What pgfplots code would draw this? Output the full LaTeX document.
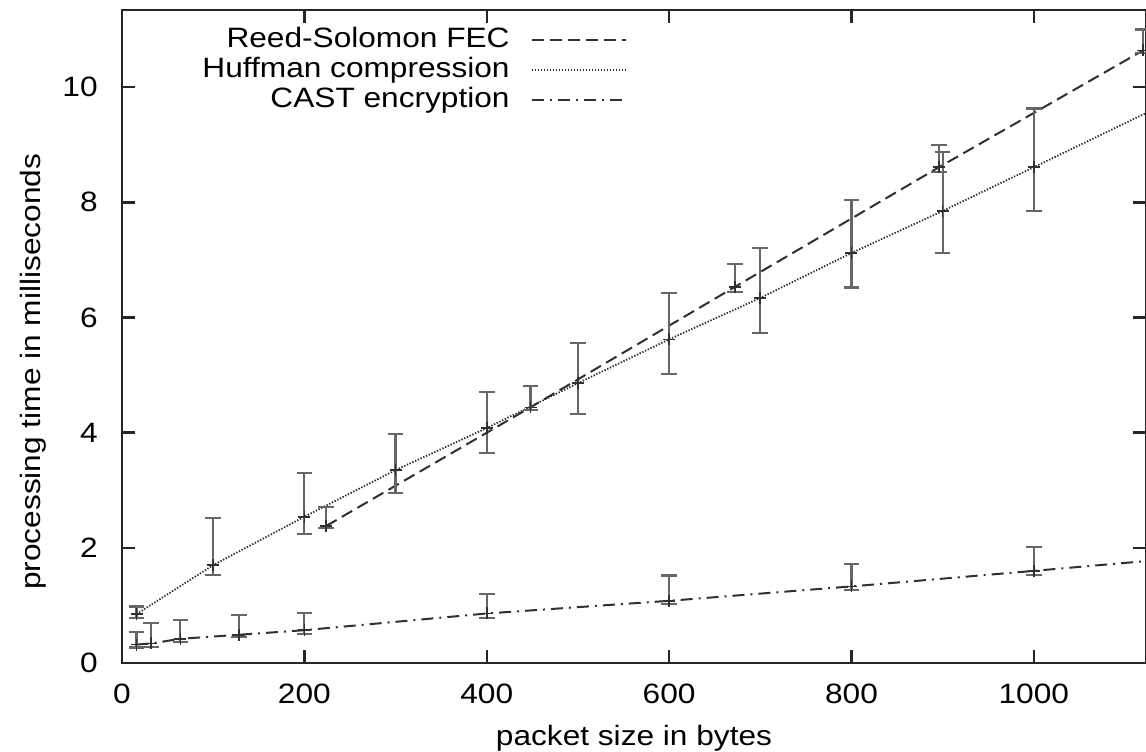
\documentclass[border=0pt]{standalone}
\usepackage{fontspec}
\setmainfont{Liberation Sans}[FakeStretch=1.13]
\usepackage{pgfplots}
\pgfplotsset{compat=1.18}
\definecolor{ln}{HTML}{303030}
\definecolor{eb}{HTML}{666666}
\begin{document}
\fontsize{14}{17}\selectfont
\begin{tikzpicture}
\begin{axis}[
 name=ax,
 scale only axis, width=512pt, height=326.5pt,
 xmin=0, xmax=1123, ymin=0, ymax=11.34,
 xtick={0,200,...,1000}, ytick={0,2,...,10},
 /pgf/number format/assume math mode=true,
 /pgf/number format/1000 sep={},
 tick align=inside, major tick length=6.5pt,
 axis line style={line width=1.2pt, color=black!85},
 every tick/.style={line width=1.2pt, black!85},
 xticklabel style={yshift=-5.5pt},
 yticklabel style={xshift=-7.3pt},
 font=\fontsize{14}{17}\selectfont,
 xlabel={packet size in bytes},
 ylabel={processing time in milliseconds},
 every axis x label/.style={at={(axis description cs:0.5,0)}, yshift=-41pt, anchor=base},
 every axis y label/.style={at={(axis description cs:0,0.446)}, xshift=-44.5pt, rotate=90, anchor=center},
 legend style={draw=none, fill=none, at={(axis description cs:0.4932,1)}, yshift=-8.5pt, anchor=north east, inner sep=0pt, row sep=2pt, column sep=10.5pt, nodes={inner sep=0pt, text height=10pt, text depth=3pt}},
 legend plot pos=right, legend cell align=right,
 legend image code/.code={\draw[#1] (0pt,0pt) -- (47pt,0pt);},
]
% lines
\addplot[ln, line width=1pt, dash pattern=on 6pt off 3pt] coordinates {
 (224,2.38) (448,4.44) (672,6.53) (896,8.61) (1120,10.64)};
\addlegendentry{Reed-Solomon FEC}
\addplot[ln, line width=0.9pt, dash pattern=on 0.7pt off 0.8pt] coordinates {
 (16,0.85) (100,1.70) (200,2.54) (300,3.35) (400,4.08) (500,4.86) (600,5.62) (700,6.34) (800,7.12) (900,7.85) (1000,8.61) (1123,9.55)};
\addlegendentry{Huffman compression}
\addplot[ln, line width=1pt, dash pattern=on 6pt off 3pt on 1pt off 3pt] coordinates {
 (16,0.32) (32,0.34) (64,0.42) (128,0.49) (200,0.57) (400,0.86) (600,1.08) (800,1.33) (1000,1.60) (1123,1.77)};
\addlegendentry{CAST encryption}
% error bars
\pgfplotsset{ebars/.style={forget plot, only marks, mark=+, mark size=3pt, mark options={ln, solid, line width=0.8pt},
 error bars/.cd, y dir=both, y explicit, error bar style={eb, line width=1.1pt, solid},
 error mark options={eb, line width=1.1pt, mark size=3.9pt, rotate=90}}}
\addplot[ebars] coordinates {
 (224,2.38) += (0,0.33) -= (0,0.03)
 (448,4.44) += (0,0.37) -= (0,0.05)
 (672,6.53) += (0,0.40) -= (0,0.09)
 (896,8.61) += (0,0.38) -= (0,0.09)
 (1120,10.64) += (0,0.36) -= (0,0.05)
};
\addplot[ebars] coordinates {
 (16,0.85) += (0,0.13) -= (0,0.07)
 (100,1.70) += (0,0.82) -= (0,0.17)
 (200,2.54) += (0,0.76) -= (0,0.30)
 (300,3.35) += (0,0.63) -= (0,0.40)
 (400,4.08) += (0,0.62) -= (0,0.43)
 (500,4.86) += (0,0.70) -= (0,0.54)
 (600,5.62) += (0,0.80) -= (0,0.60)
 (700,6.34) += (0,0.86) -= (0,0.61)
 (800,7.12) += (0,0.92) -= (0,0.60)
 (900,7.85) += (0,1.02) -= (0,0.73)
 (1000,8.61) += (0,1.02) -= (0,0.76)
};
\addplot[ebars] coordinates {
 (16,0.32) += (0,0.22) -= (0,0.05)
 (32,0.34) += (0,0.35) -= (0,0.06)
 (64,0.42) += (0,0.33) -= (0,0.05)
 (128,0.49) += (0,0.34) -= (0,0.04)
 (200,0.57) += (0,0.30) -= (0,0.06)
 (400,0.86) += (0,0.34) -= (0,0.08)
 (600,1.08) += (0,0.44) -= (0,0.06)
 (800,1.33) += (0,0.39) -= (0,0.06)
 (1000,1.60) += (0,0.41) -= (0,0.07)
};
\end{axis}
\pgfresetboundingbox
\path[use as bounding box] (ax.south west) ++(-61pt,-44pt) rectangle ([yshift=5pt]ax.north east);
\end{tikzpicture}
\end{document}
